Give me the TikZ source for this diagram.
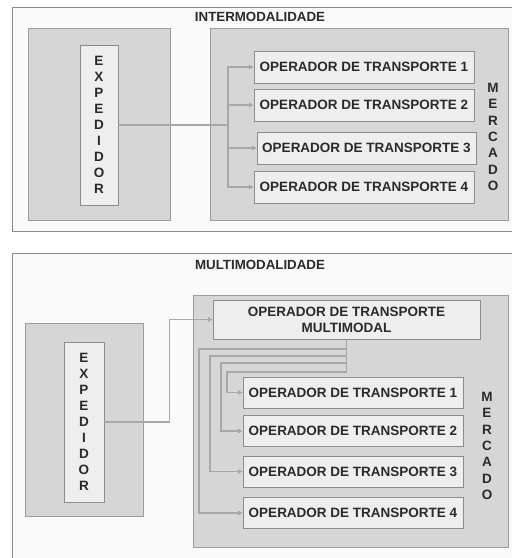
\documentclass[tikz,border=0pt]{standalone}
\usepackage{fontspec}
\setmainfont{Liberation Sans}
\usetikzlibrary{arrows.meta}

\definecolor{framegray}{HTML}{8A8A8A}
\definecolor{zonefill}{HTML}{D6D6D6}
\definecolor{zonedraw}{HTML}{9C9C9C}
\definecolor{boxfill}{HTML}{EEEEEE}
\definecolor{boxdraw}{HTML}{8C8C8C}
\definecolor{linkgray}{HTML}{A8A8A8}
\definecolor{inkgray}{HTML}{2A2A2A}

\tikzset{
  panel/.style={draw=framegray, fill=white!98!black, line width=0.9pt},
  zone/.style={draw=zonedraw, fill=zonefill, line width=0.9pt},
  opbox/.style={draw=boxdraw, fill=boxfill, line width=0.8pt, inner sep=0pt,
    font=\fontsize{13.5}{16}\selectfont\bfseries, text=inkgray, align=center},
  vlabel/.style={font=\fontsize{13.5}{16.3}\selectfont\bfseries, text=inkgray,
    align=center, inner sep=0pt},
  heading/.style={font=\fontsize{13.3}{15}\selectfont\bfseries, text=inkgray},
  conn/.style={draw=linkgray, line width=1.1pt},
}

\begin{document}
\begin{tikzpicture}[x=1pt, y=-1pt, line join=miter, >={Triangle[length=4.5pt,width=4.5pt]}]

  \clip (0,0) rectangle (512,558);
  \fill[white] (0,0) rectangle (512,558);

  % ===== Intermodalidade (top panel) =====
  \draw[panel] (12,7) rectangle (530,231);
  \node[heading] (titA) at (260,17) {INTERMODALIDADE};

  \draw[zone] (28,28) rectangle (170,220);
  \draw[zone] (210,28) rectangle (508,220);

  \node[opbox, minimum width=38pt, minimum height=160pt] (expA) at (99,125)
    {E\\X\\P\\E\\D\\I\\D\\O\\R};

  \node[opbox, minimum width=220pt, minimum height=32pt] (opA1) at (364,67) {OPERADOR DE TRANSPORTE 1};
  \node[opbox, minimum width=220pt, minimum height=32pt] (opA2) at (364,105) {OPERADOR DE TRANSPORTE 2};
  \node[opbox, minimum width=219pt, minimum height=32pt] (opA3) at (366.5,148) {OPERADOR DE TRANSPORTE 3};
  \node[opbox, minimum width=220pt, minimum height=32pt] (opA4) at (364,187) {OPERADOR DE TRANSPORTE 4};

  \node[vlabel] (mktA) at (493,137) {M\\E\\R\\C\\A\\D\\O};

  % split point of the single route
  \coordinate (jA) at (228,125);
  \draw[conn] (expA.east) -- (jA);
  \foreach \i in {1,...,4}
    \draw[conn,->] (jA) |- (opA\i.west);

  % ===== Multimodalidade (bottom panel) =====
  \draw[panel] (12,253) rectangle (530,570);
  \node[heading] (titB) at (260,265) {MULTIMODALIDADE};

  \draw[zone] (25,323) rectangle (143,516);
  \draw[zone] (193,295) rectangle (508,547);

  \node[opbox, minimum width=40pt, minimum height=160pt] (expB) at (84,422)
    {E\\X\\P\\E\\D\\I\\D\\O\\R};

  \node[opbox, minimum width=267pt, minimum height=39pt] (otm) at (346.5,319.5)
    {OPERADOR DE TRANSPORTE\\MULTIMODAL};

  \node[opbox, minimum width=220pt, minimum height=31pt] (opB1) at (353,392.5) {OPERADOR DE TRANSPORTE 1};
  \node[opbox, minimum width=220pt, minimum height=31pt] (opB2) at (353,431) {OPERADOR DE TRANSPORTE 2};
  \node[opbox, minimum width=220pt, minimum height=31pt] (opB3) at (353,471.5) {OPERADOR DE TRANSPORTE 3};
  \node[opbox, minimum width=220pt, minimum height=31pt] (opB4) at (353,513) {OPERADOR DE TRANSPORTE 4};

  \node[vlabel] (mktB) at (487,446) {M\\E\\R\\C\\A\\D\\O};

  \draw[conn,->] (expB.east) -- ++(65,0) |- (otm.west);

  % one separate route per operator, nested
  \foreach \i/\xx/\yy in {1/227/372, 2/221/363, 3/210/356, 4/199/349}
    \draw[conn,->] (otm.south) |- (\xx,\yy) |- (opB\i.west);

\end{tikzpicture}
\end{document}
